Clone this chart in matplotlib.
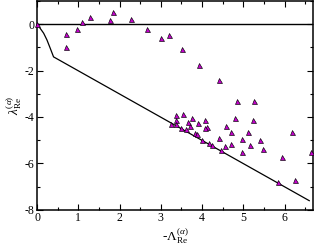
import matplotlib
matplotlib.use("Agg")
import matplotlib.pyplot as plt
from matplotlib.ticker import MultipleLocator

plt.rcParams['font.family'] = ['Liberation Serif', 'DejaVu Serif']
plt.rcParams['mathtext.fontset'] = 'custom'
plt.rcParams['mathtext.rm'] = 'Liberation Serif'
plt.rcParams['mathtext.it'] = 'Liberation Serif:italic'
plt.rcParams['axes.unicode_minus'] = False

# Scatter data (triangles)
pts_x = [0.0, 0.71, 0.70, 0.98, 1.08, 1.28, 1.85, 1.78, 2.29, 2.66, 3.01, 3.19, 3.52,
         3.93, 4.40, 4.85, 5.25, 4.79, 5.24, 4.08, 4.58, 4.11, 6.19, 4.71, 5.12, 4.41,
         4.96, 5.40, 4.00, 4.16, 4.25, 4.56, 4.70, 5.16, 4.45, 5.49, 4.96, 6.64, 5.93,
         5.84, 6.25, 3.36, 3.54, 3.76, 3.38, 3.67, 3.90, 3.70, 3.37, 3.25, 3.50, 3.60,
         3.83, 3.88, 4.07]
pts_y = [0.0, -0.43, -0.97, -0.19, 0.10, 0.31, 0.52, 0.20, 0.21, -0.19, -0.59, -0.45, -1.09,
         -1.78, -2.40, -3.31, -3.32, -4.03, -4.15, -4.15, -4.37, -4.44, -4.67, -4.67, -4.63, -4.89,
         -4.96, -5.00, -4.99, -5.13, -5.22, -5.25, -5.17, -5.20, -5.43, -5.38, -5.53, -5.50, -5.71,
         -6.81, -6.70, -3.91, -3.87, -4.05, -4.12, -4.22, -4.28, -4.37, -4.30, -4.31, -4.48, -4.53,
         -4.71, -4.74, -4.46]

# Bound curve
bound_x = [0.0, 0.08, 0.16, 0.24, 0.32, 0.40, 6.60]
bound_y = [0.0, -0.19, -0.39, -0.68, -1.04, -1.41, -7.61]

fig = plt.figure(figsize=(3.14, 2.46), dpi=100)
ax = fig.add_axes([0.118, 0.1475, 0.880, 0.8485])

ax.axhline(0, color='black', lw=1.0)
ax.plot(bound_x, bound_y, color='black', lw=0.9)
ax.plot(pts_x, pts_y, linestyle='none', marker='^', markersize=3.6,
        markerfacecolor='#c400cc', markeredgecolor='black', markeredgewidth=0.45,
        clip_on=False, zorder=3)

ax.set_xlim(0, 6.7)
ax.set_ylim(-8, 1)
ax.xaxis.set_major_locator(MultipleLocator(1))
ax.xaxis.set_minor_locator(MultipleLocator(0.5))
ax.yaxis.set_major_locator(MultipleLocator(2))
ax.yaxis.set_minor_locator(MultipleLocator(1))
ax.tick_params(which='both', direction='in', top=True, right=True, labelsize=8.5, pad=2)
ax.tick_params(which='major', length=4, width=0.8)
ax.tick_params(which='minor', length=2.5, width=0.8)
for s in ax.spines.values():
    s.set_linewidth(1.1)

ax.set_xlabel(r'-$\Lambda_{\mathrm{Re}}^{(\alpha)}$', fontsize=9.5, labelpad=1)
ax.set_ylabel(r'$\lambda_{\mathrm{Re}}^{(\alpha)}$', fontsize=9.5, labelpad=0)

fig.savefig('out.png', dpi=100)
